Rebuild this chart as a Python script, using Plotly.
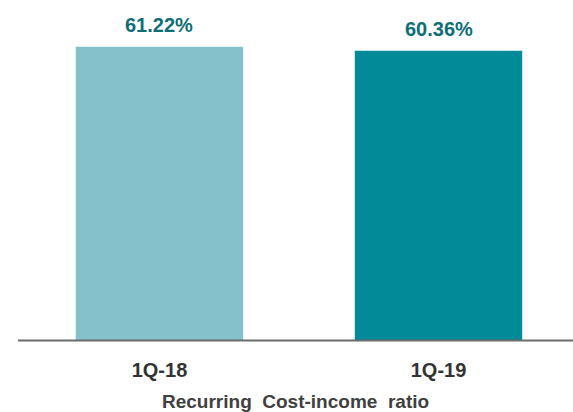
import plotly.graph_objects as go

categories = ["1Q-18", "1Q-19"]
values = [61.22, 60.36]
value_labels = ["61.22%", "60.36%"]
bar_colors = ["#83C2CA", "#038A99"]
axis_title = "Recurring\u00a0 Cost-income\u00a0 ratio"

FONT = "Liberation Sans, Arial, sans-serif"

fig = go.Figure()
fig.add_trace(go.Bar(
    x=categories, y=values,
    marker=dict(color=bar_colors, line=dict(width=0)),
    width=0.6,
    hoverinfo="skip",
))

for c, v, t in zip(categories, values, value_labels):
    fig.add_annotation(
        x=c, y=v, xref="x", yref="y", text=f"<b>{t}</b>",
        showarrow=False, yanchor="bottom", yshift=9,
        font=dict(family=FONT, size=20, color="#0E6E78"),
    )

fig.add_annotation(
    x=0.5, y=-0.172, xref="paper", yref="paper",
    text=f"<b>{axis_title}</b>", showarrow=False,
    xanchor="center", yanchor="middle",
    font=dict(family=FONT, size=19, color="#404040"),
)

fig.add_shape(type="line", xref="paper", yref="y", x0=0, x1=1, y0=0, y1=0,
              line=dict(color="#6B6B6B", width=2))

fig.update_layout(
    width=573, height=412,
    margin=dict(l=18, r=0, t=0, b=69),
    paper_bgcolor="white", plot_bgcolor="white",
    showlegend=False,
    xaxis=dict(
        range=[-0.507, 1.482], showgrid=False, zeroline=False, showline=False,
        ticks="", ticklabelstandoff=13,
        tickfont=dict(family=FONT, size=20, color="#333333"),
        tickprefix="<b>", ticksuffix="</b>",
    ),
    yaxis=dict(range=[-0.52, 70.94], visible=False),
)

fig.write_html("out.html")
